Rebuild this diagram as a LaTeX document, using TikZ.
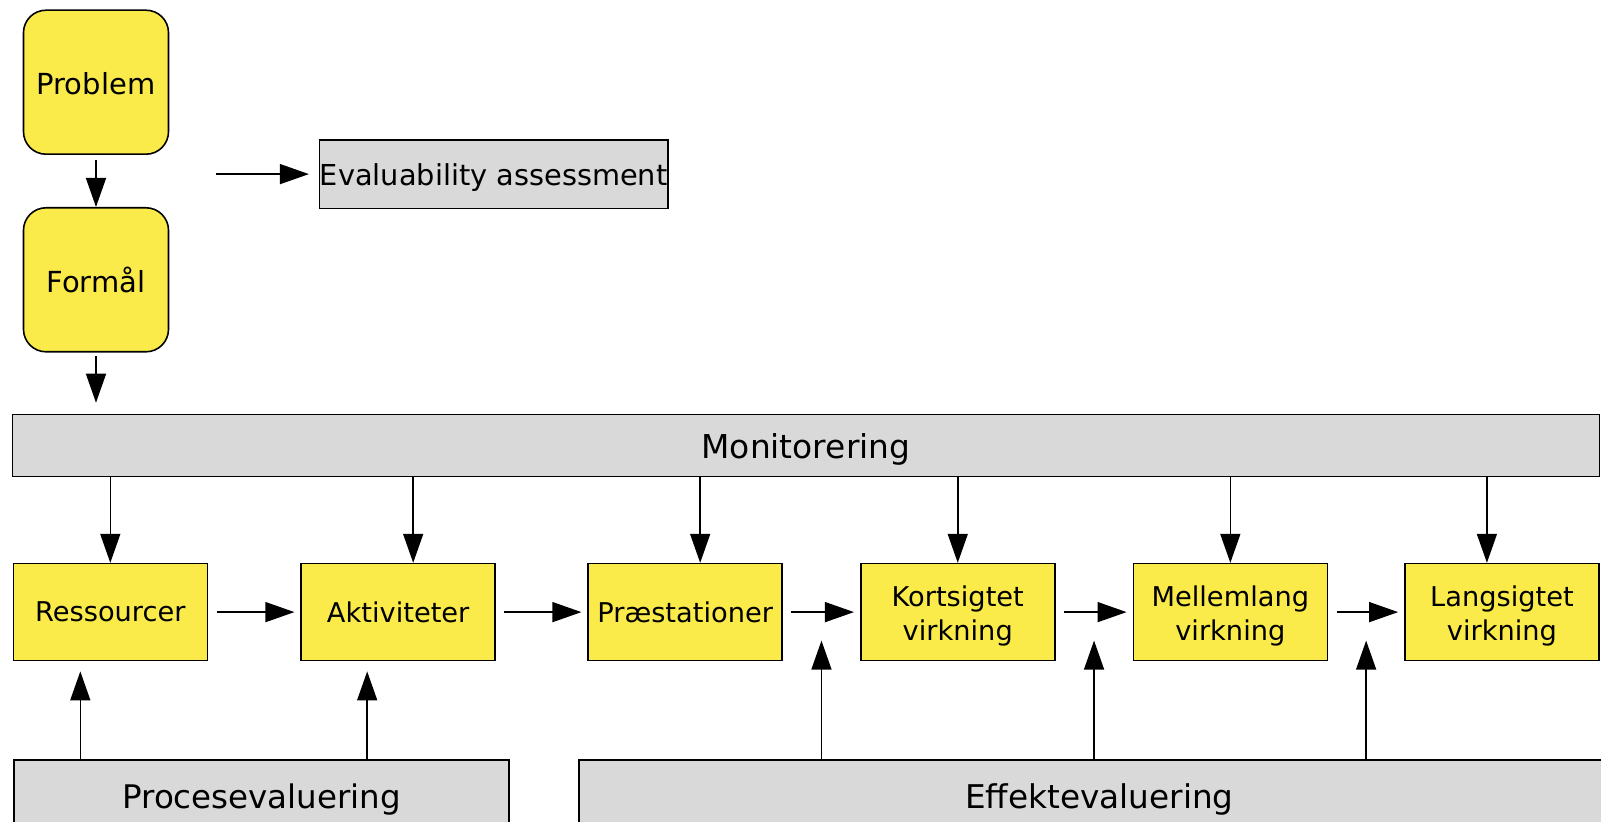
\documentclass[tikz,border=0pt]{standalone}
\usepackage{fontspec}
\setmainfont{DejaVu Sans}
\usetikzlibrary{shapes,arrows.meta,positioning,calc}
\definecolor{boxyellow}{RGB}{251,235,74}
\definecolor{boxgray}{RGB}{217,217,217}

\begin{document}
\begin{tikzpicture}[
    node distance=1.04cm,
    >={Triangle[length=0.58cm,width=0.4cm]},
    goal/.style={rectangle, rounded corners=0.45cm, draw, line width=0.9pt, fill=boxyellow, minimum width=2.9cm, minimum height=2.88cm, inner sep=0pt, text height=14.5pt, text depth=0pt, font=\fontsize{16.5}{19.8}\selectfont},
    stage/.style={rectangle, draw, line width=0.9pt, fill=boxyellow, minimum width=3.88cm, minimum height=1.94cm, inner sep=0pt, align=center, font=\fontsize{15.5}{19.4}\selectfont},
    twoline/.style={stage, text height=32.7pt, text depth=0pt},
    bar/.style={rectangle, draw, line width=0.9pt, fill=boxgray, inner sep=0pt, text height=15pt, text depth=0pt, font=\fontsize{18.7}{22}\selectfont},
    arr/.style={->, line width=0.85pt}
]
\useasboundingbox (0,0) rectangle (32.02,-16.42);

\node[goal] (problem) at (1.92,-1.644) {Problem};
\node[goal, below=of problem] (formaal) {Formål};
\node[bar, minimum width=6.96cm, minimum height=1.37cm, text height=13.1pt, font=\fontsize{16.4}{19.7}\selectfont] (evaluability) at (9.874,-3.482) {Evaluability assessment};
\coordinate[left=2.06cm of evaluability.west] (evalstart);

\node[bar, minimum width=31.74cm, minimum height=1.24cm] (mon) at (16.118,-8.91) {Monitorering};

\node[stage] (ressourcer) at (2.206,-12.242) {Ressourcer};
\node[stage, right=1.846cm of ressourcer] (aktiviteter) {Aktiviteter};
\node[stage, right=1.828cm of aktiviteter] (praest) {Præstationer};
\node[twoline, right=1.54cm of praest] (kort) {Kortsigtet\\virkning};
\node[twoline, right=1.54cm of kort] (mell) {Mellemlang\\virkning};
\node[twoline, right=1.52cm of mell] (lang) {Langsigtet\\virkning};

\node[bar, minimum width=9.9cm, minimum height=1.4cm, font=\fontsize{18.5}{22}\selectfont] (proc) at (5.235,-15.9) {Procesevaluering};
\node[bar, minimum width=20.82cm, minimum height=1.4cm, font=\fontsize{18.6}{22}\selectfont] (effekt) at (21.99,-15.9) {Effektevaluering};

% top part
\draw[arr, shorten <=0.1cm] (problem) -- (formaal);
\draw[arr, shorten <=0.075cm, shorten >=0.22cm] (formaal) -- (formaal.south |- mon.north);
\draw[arr, shorten >=0.2cm] (evalstart) -- (evaluability.west);

% monitorering
\coordinate (a1) at ([xshift=0.3cm]aktiviteter.north);
\coordinate (a2) at ([xshift=0.3cm]praest.north);
\coordinate (a3) at ([xshift=-0.3cm]lang.north);
\draw[arr] (mon.south -| ressourcer.north) -- (ressourcer.north);
\draw[arr] (mon.south -| a1) -- (a1);
\draw[arr] (mon.south -| a2) -- (a2);
\draw[arr] (mon.south -| kort.north) -- (kort.north);
\draw[arr] (mon.south -| mell.north) -- (mell.north);
\draw[arr] (mon.south -| a3) -- (a3);

% chain
\draw[arr, shorten <=0.17cm, shorten >=0.12cm] (ressourcer) -- (aktiviteter);
\draw[arr, shorten <=0.17cm, shorten >=0.12cm] (aktiviteter) -- (praest);
\draw[arr, shorten <=0.17cm, shorten >=0.12cm] (praest) -- (kort);
\draw[arr, shorten <=0.17cm, shorten >=0.12cm] (kort) -- (mell);
\draw[arr, shorten <=0.17cm, shorten >=0.12cm] (mell) -- (lang);

% evaluering
\coordinate (p1) at ($(ressourcer.south)+(-0.6,-0.2)$);
\coordinate (p2) at ($(aktiviteter.south)+(-0.62,-0.2)$);
\coordinate (e1) at ($(praest.east)!0.5!(kort.west)+(0,-0.57)$);
\coordinate (e2) at ($(kort.east)!0.5!(mell.west)+(0,-0.57)$);
\coordinate (e3) at ($(mell.east)!0.5!(lang.west)+(0,-0.57)$);
\draw[arr] (p1 |- proc.north) -- (p1);
\draw[arr] (p2 |- proc.north) -- (p2);
\draw[arr] (e1 |- effekt.north) -- (e1);
\draw[arr] (e2 |- effekt.north) -- (e2);
\draw[arr] (e3 |- effekt.north) -- (e3);
\end{tikzpicture}
\end{document}
